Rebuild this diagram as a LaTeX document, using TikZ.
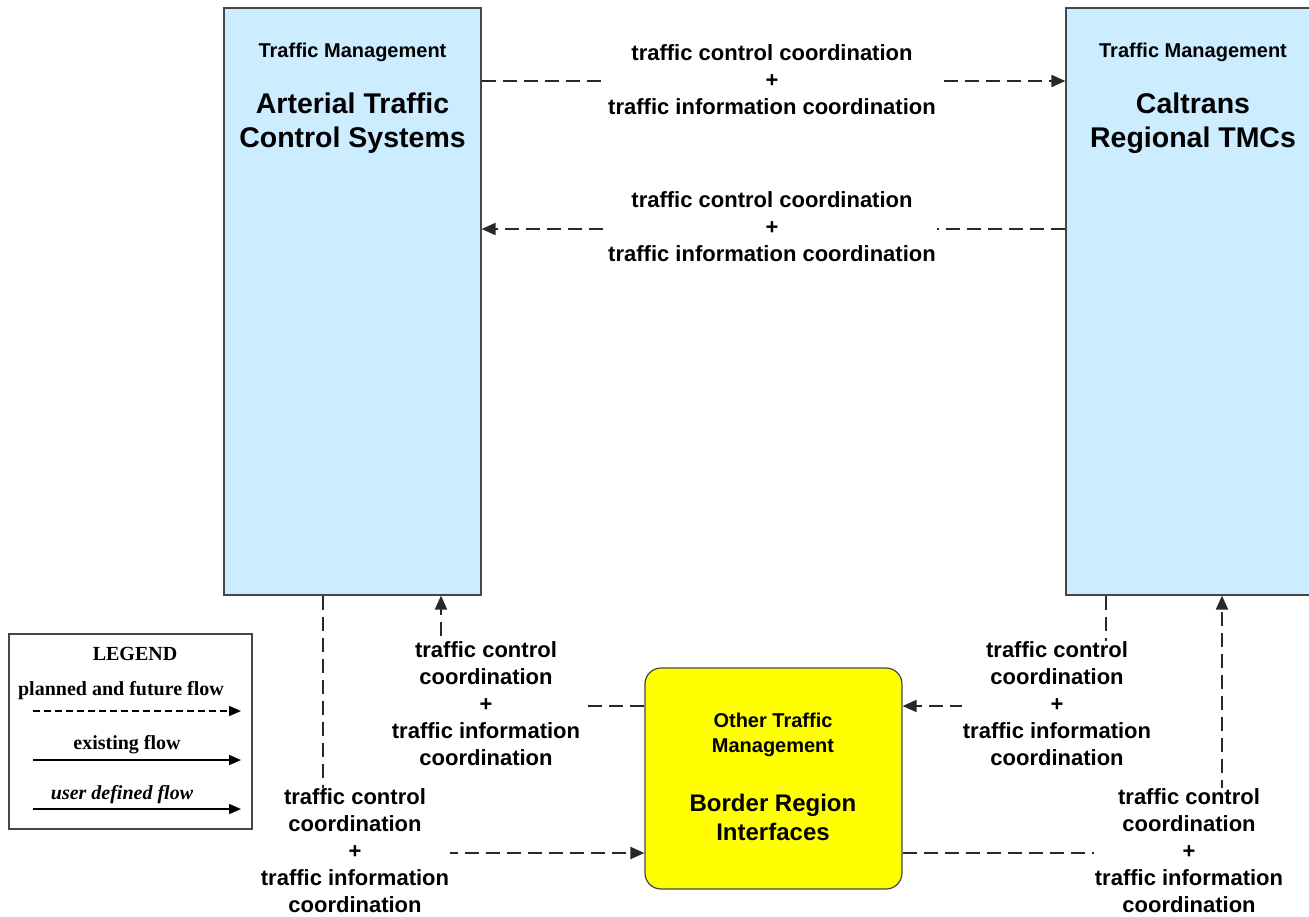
\documentclass[tikz,border=0pt]{standalone}
\usepackage{fontspec}
\setmainfont{Liberation Sans}
\newfontfamily\legendfont{Liberation Serif}
\usetikzlibrary{arrows.meta}
\definecolor{tmblue}{RGB}{204,236,255}
\definecolor{boxline}{RGB}{70,70,70}
\definecolor{flowc}{RGB}{40,40,40}
\definecolor{byellow}{RGB}{255,255,0}
\tikzset{
  box/.style={draw=boxline, line width=1.2pt, fill=tmblue, inner sep=0pt},
  ybox/.style={draw=boxline, line width=1.2pt, fill=byellow, inner sep=0pt, rounded corners=16pt},
  lbl/.style={fill=white, align=center, inner sep=1pt, font=\fontsize{22}{27}\selectfont\bfseries},
  flow/.style={draw=flowc, line width=2pt, dash pattern=on 14pt off 7pt, -{Triangle[length=14pt,width=12pt]}},
  smalltxt/.style={font=\fontsize{20}{25}\selectfont\bfseries, align=center, inner sep=0pt},
  titletxt/.style={font=\fontsize{28.5}{34}\selectfont\bfseries, align=center, inner sep=0pt},
  ytitletxt/.style={font=\fontsize{24}{29}\selectfont\bfseries, align=center, inner sep=0pt},
  legtxt/.style={font=\legendfont\fontsize{20}{22}\selectfont\bfseries, inner sep=0pt},
  legline/.style={draw=black, line width=1.8pt, -{Triangle[length=12pt,width=10pt]}},
}
\begin{document}
\begin{tikzpicture}[x=1pt,y=-1pt]
\useasboundingbox (0,0) rectangle (1309,916);
% boxes
\node[box, minimum width=257pt, minimum height=587pt] (A) at (352.5,301.5) {};
\node[box, minimum width=257pt, minimum height=587pt] (C) at (1194.5,301.5) {};
\node[ybox, minimum width=257pt, minimum height=221pt] (B) at (773.5,778.5) {};
% box texts
\node[smalltxt] (At) at (352.5,52) {Traffic Management};
\node[titletxt] (An) at (352.5,123) {Arterial Traffic\\Control Systems};
\node[smalltxt] (Ct) at (1193,52) {Traffic Management};
\node[titletxt] (Cn) at (1193,123) {Caltrans\\Regional TMCs};
\node[smalltxt] (Bt) at (773,734.5) {Other Traffic\\Management};
\node[ytitletxt] (Bn) at (773,817.5) {Border Region\\Interfaces};
% label anchors
\coordinate (l1) at (772,81);
\coordinate (l2) at (772,229);
\coordinate (c3) at (441,706);
\coordinate (c4) at (323,853);
\coordinate (c5) at (1106,706);
\coordinate (c6) at (1222,853);
% connectors
\draw[flow] (A.east |- l1) -- (C.west |- l1);
\draw[flow] (C.west |- l2) -- (A.east |- l2);
\draw[flow] (B.west |- c3) -- (c3) -- (c3 |- A.south);
\draw[flow] (c4 |- A.south) -- (c4) -- (B.west |- c4);
\draw[flow] (c5 |- C.south) -- (c5) -- (B.east |- c5);
\draw[flow] (B.east |- c6) -- (c6) -- (c6 |- C.south);
% labels
\node[lbl] (L1) at (772,80) {traffic control coordination\\+\\traffic information coordination};
\node[lbl] (L2) at (772,227) {traffic control coordination\\+\\traffic information coordination};
\node[lbl] (L3) at (486,704) {traffic control\\coordination\\+\\traffic information\\coordination};
\node[lbl] (L4) at (355,851) {traffic control\\coordination\\+\\traffic information\\coordination};
\node[lbl] (L5) at (1057,704) {traffic control\\coordination\\+\\traffic information\\coordination};
\node[lbl] (L6) at (1189,851) {traffic control\\coordination\\+\\traffic information\\coordination};
% legend
\node[draw=boxline, line width=1.4pt, minimum width=243pt, minimum height=195pt, inner sep=0pt] (Lg) at (130.5,731.5) {};
\node[legtxt] (Lgt) at (135,654) {LEGEND};
\node[legtxt] (Lp) at (121,691) {planned and future flow};
\node[legtxt] (Le) at (127,745) {existing flow};
\node[legtxt, font=\legendfont\fontsize{20}{22}\selectfont\bfseries\itshape] (Lu) at (122,795) {user defined flow};
\coordinate (g1s) at (33,711); \coordinate (g1e) at (241,711);
\coordinate (g2s) at (33,760); \coordinate (g2e) at (241,760);
\coordinate (g3s) at (33,809); \coordinate (g3e) at (241,809);
\draw[legline, dash pattern=on 7pt off 4pt] (g1s) -- (g1e);
\draw[legline] (g2s) -- (g2e);
\draw[legline] (g3s) -- (g3e);
\end{tikzpicture}
\end{document}
